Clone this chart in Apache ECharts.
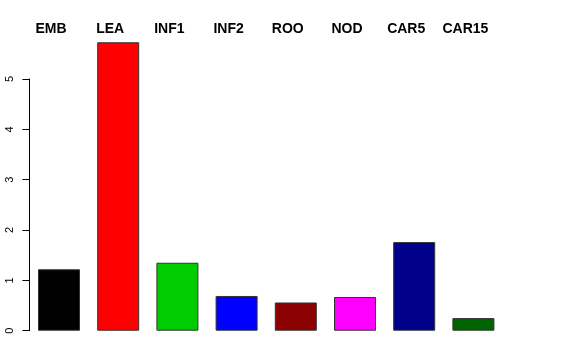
<!DOCTYPE html>
<html>
<head>
<meta charset="utf-8">
<script src="https://cdn.jsdelivr.net/npm/echarts@6/dist/echarts.min.js"></script>
<style>html,body{margin:0;padding:0;background:#fff}#c{width:576px;height:360px}</style>
</head>
<body>
<div id="c"></div>
<script>
const categories = ['EMB', 'LEA', 'INF1', 'INF2', 'ROO', 'NOD', 'CAR5', 'CAR15'];
const values = [1.22, 5.73, 1.35, 0.69, 0.56, 0.67, 1.76, 0.25];
const barColors = ['#000000', '#FF0000', '#00CD00', '#0000FF', '#8B0000', '#FF00FF', '#00008B', '#006400'];
const yTicks = [0, 1, 2, 3, 4, 5];

const chart = echarts.init(document.getElementById('c'), null, {renderer: 'canvas'});
chart.setOption({
  animation: false,
  backgroundColor: '#ffffff',
  grid: {left: 29.4, width: 473.6, top: 79, height: 251.7},
  xAxis: [{
    type: 'category', data: categories, position: 'bottom',
    axisLine: {show: false}, axisTick: {show: false}, axisLabel: {show: false}
  }, {
    type: 'category', data: categories, position: 'top',
    axisLine: {show: false}, axisTick: {show: false}, splitLine: {show: false},
    axisLabel: {
      show: true, interval: 0, hideOverlap: false, margin: 43, color: '#000',
      fontWeight: 'bold', fontSize: 14,
      fontFamily: 'Liberation Sans, Arial, sans-serif', padding: [0, 16, 0, 0]
    }
  }],
  yAxis: {
    type: 'value', min: yTicks[0], max: yTicks[yTicks.length - 1], interval: 1,
    axisLine: {show: true, lineStyle: {color: '#000', width: 1}},
    axisTick: {show: true, length: 7, lineStyle: {color: '#000'}},
    splitLine: {show: false},
    axisLabel: {
      rotate: 90, margin: 14, color: '#000', fontSize: 11,
      fontFamily: 'Liberation Sans, Arial, sans-serif'
    }
  },
  series: [{
    type: 'bar', data: values.map((v, i) => ({value: v, itemStyle: {color: barColors[i]}})),
    barWidth: 42, clip: false, xAxisIndex: 0,
    itemStyle: {borderColor: '#333', borderWidth: 1}
  }]
});
</script>
</body>
</html>
